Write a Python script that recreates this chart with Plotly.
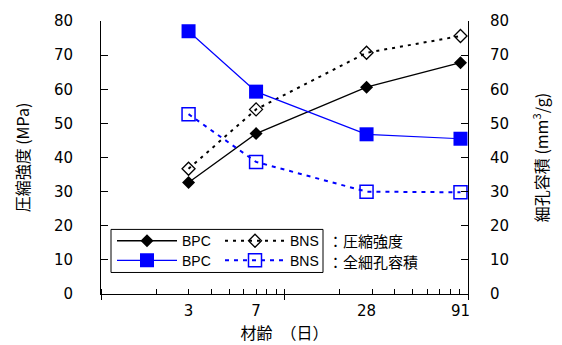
import plotly.graph_objects as go

# Curing age (days) and measured values
ages = [3, 7, 28, 91]
age_labels = ["3", "7", "28", "91"]
bpc_strength = [32.7, 47.0, 60.6, 67.8]   # MPa
bns_strength = [36.7, 54.1, 70.7, 75.6]   # MPa
bpc_pore = [77.0, 59.3, 46.8, 45.5]       # mm3/g
bns_pore = [52.7, 38.7, 30.0, 29.8]       # mm3/g

NUM_FONT = "DejaVu Sans, sans-serif"
LEG_FONT = "Liberation Sans, Arial, sans-serif"
CJK_FONT = "Noto Sans CJK JP, sans-serif"

fig = go.Figure()

fig.add_trace(go.Scatter(
    x=ages, y=bpc_strength, name="BPC", mode="lines+markers",
    line=dict(color="black", width=1.3),
    marker=dict(symbol="diamond", size=10, color="black"),
    legend="legend", yaxis="y"))
fig.add_trace(go.Scatter(
    x=ages, y=bns_strength, name="BNS", mode="lines+markers",
    line=dict(color="black", width=2, dash="3px,5px"),
    marker=dict(symbol="diamond-open", size=10, color="black", line=dict(width=1.3)),
    legend="legend2", yaxis="y"))
fig.add_trace(go.Scatter(
    x=ages, y=bpc_pore, name="BPC", mode="lines+markers",
    line=dict(color="#0000ff", width=1.2),
    marker=dict(symbol="square", size=14, color="#0000ff"),
    legend="legend3", yaxis="y2"))
fig.add_trace(go.Scatter(
    x=ages, y=bns_pore, name="BNS", mode="lines+markers",
    line=dict(color="#0000ff", width=2, dash="4px,5px"),
    marker=dict(symbol="square-open", size=13, color="#0000ff", line=dict(width=1.5)),
    legend="legend4", yaxis="y2"))
# carrier for the age tick labels on the overlaid x axis
fig.add_trace(go.Scatter(
    x=ages, y=bpc_strength, xaxis="x2", yaxis="y", mode="markers",
    marker=dict(opacity=0), showlegend=False, hoverinfo="skip"))

W, H = 562, 345
L, R, T, B = 101, 94, 15, 51
pw, ph = W - L - R, H - T - B


def px(xp):
    return (xp - L) / pw


def py(yp):
    return (H - B - yp) / ph


leg_common = dict(orientation="h", xanchor="left", yanchor="middle",
                  bgcolor="rgba(0,0,0,0)", borderwidth=0,
                  font=dict(family=LEG_FONT, size=14, color="black"),
                  itemwidth=60, tracegroupgap=0)

fig.update_layout(
    width=W, height=H,
    margin=dict(l=L, r=R, t=T, b=B),
    paper_bgcolor="white", plot_bgcolor="white",
    showlegend=True,
    legend=dict(x=px(112), y=py(240), **leg_common),
    legend2=dict(x=px(220), y=py(240), **leg_common),
    legend3=dict(x=px(112), y=py(260), **leg_common),
    legend4=dict(x=px(220), y=py(260), **leg_common),
    xaxis=dict(
        type="log", range=[0, 2], showgrid=False, zeroline=False,
        showline=True, linecolor="black", linewidth=1,
        tickmode="array", tickvals=[1, 10, 100], ticks="outside",
        ticklen=5, tickcolor="black", showticklabels=False,
        minor=dict(tickmode="array",
                   tickvals=[1, 2, 3, 4, 5, 6, 7, 8, 9, 10,
                             20, 30, 40, 50, 60, 70, 80, 90, 100],
                   ticks="inside", ticklen=5, tickcolor="black"),
    ),
    xaxis2=dict(
        type="log", range=[0, 2], overlaying="x", anchor="y", side="bottom",
        showgrid=False, zeroline=False, showline=False,
        tickmode="array", tickvals=ages, ticktext=age_labels, ticks="",
        ticklabelstandoff=6,
        tickfont=dict(family=NUM_FONT, size=15, color="black"),
        title=dict(text="材齢　（日）", standoff=2,
                   font=dict(family=CJK_FONT, size=16, color="black")),
    ),
    yaxis=dict(
        range=[0, 80], dtick=10, showgrid=False, zeroline=False,
        showline=True, linecolor="black", linewidth=1,
        ticks="inside", ticklen=7, tickcolor="black",
        ticklabelstandoff=24,
        tickfont=dict(family=NUM_FONT, size=15, color="black"),
        title=dict(text="圧縮強度 (MPa)", standoff=20,
                   font=dict(family=CJK_FONT, size=16, color="black")),
    ),
    yaxis2=dict(
        range=[0, 80], dtick=10, overlaying="y", side="right", anchor="x",
        showgrid=False, zeroline=False,
        showline=True, linecolor="black", linewidth=1,
        ticks="inside", ticklen=7, tickcolor="black",
        ticklabelstandoff=18,
        tickfont=dict(family=NUM_FONT, size=15, color="black"),
        title=dict(text="細孔容積 (mm<sup>3</sup>/g)", standoff=28,
                   font=dict(family=CJK_FONT, size=16, color="black")),
    ),
    shapes=[dict(type="rect", xref="paper", yref="paper",
                 x0=px(111), x1=px(323), y0=py(272), y1=py(228),
                 line=dict(color="black", width=1), fillcolor="white",
                 layer="below")],
    annotations=[
        dict(text="：圧縮強度", xref="paper", yref="paper",
             x=px(326), y=py(239), xanchor="left", yanchor="middle",
             showarrow=False,
             font=dict(family=CJK_FONT, size=15, color="black")),
        dict(text="：全細孔容積", xref="paper", yref="paper",
             x=px(326), y=py(261), xanchor="left", yanchor="middle",
             showarrow=False,
             font=dict(family=CJK_FONT, size=15, color="black")),
    ],
)

fig.write_html("out.html")
